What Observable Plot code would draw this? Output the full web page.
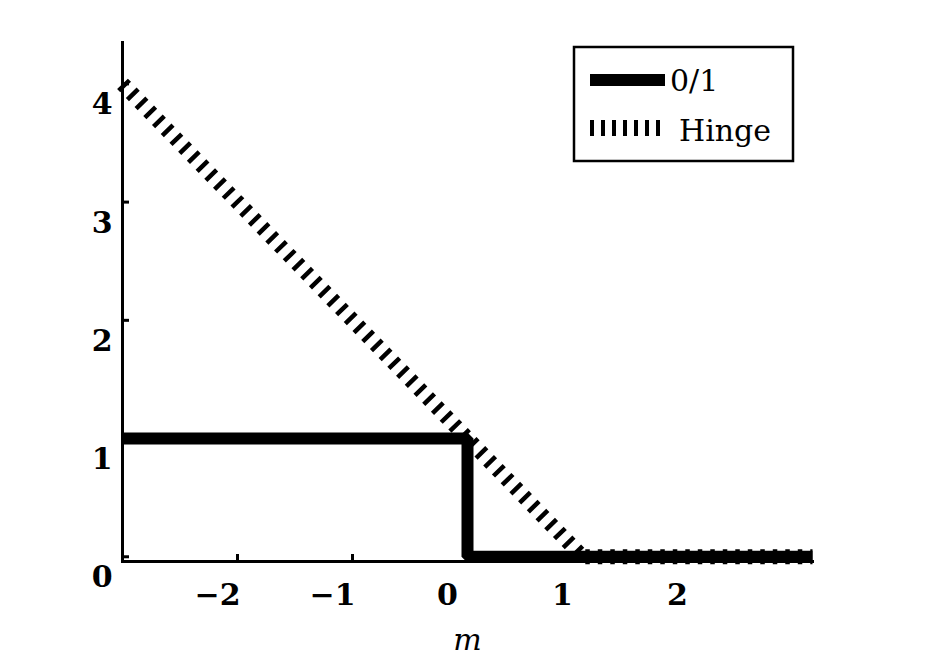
<!DOCTYPE html>
<html><head><meta charset="utf-8">
<script src="https://cdn.jsdelivr.net/npm/d3@7"></script>
<script src="https://cdn.jsdelivr.net/npm/@observablehq/plot@0.6"></script>
<style>
body{margin:0;background:#fff;}
#chart{position:relative;width:928px;height:672px;}
#chart svg g[aria-label="x-axis label"] text{font-style:italic;font-weight:normal;}
</style></head><body><div id="chart"></div>
<script>
// data
const marginM = [-3, 0, 0, 3];
const zeroOneLoss = [1, 1, 0, 0];
const hingeM = [-3, 1, 3];
const hingeLoss = [4, 0, 0];
const xTicks = [-2, -1, 0, 1, 2];
const yTicks = [0, 1, 2, 3, 4];
const seriesNames = ["0/1", "Hinge"];
const xLabel = "m";

const zeroOne = marginM.map((m, i) => ({m, loss: zeroOneLoss[i]}));
const hinge = hingeM.map((m, i) => ({m, loss: hingeLoss[i]}));
const fmt = d => (d < 0 ? "\u2212" : "") + Math.abs(d);

const font = "'DejaVu Serif', serif";
const plot = Plot.plot({
  width: 928, height: 672,
  marginLeft: 122, marginRight: 116, marginTop: 42, marginBottom: 111,
  style: {fontFamily: font, fontSize: "30px", color: "#000", background: "#fff", overflow: "visible"},
  x: {domain: [-3, 3]},
  y: {domain: [-0.04, 4.35]},
  marks: [
    Plot.frame({anchor: "bottom", strokeWidth: 3}),
    Plot.frame({anchor: "left", strokeWidth: 3}),
    Plot.axisX({ticks: xTicks, tickSize: -7, strokeWidth: 3, tickFormat: () => "", label: null}),
    Plot.axisY({ticks: yTicks, tickSize: -7, strokeWidth: 3, tickFormat: () => "", label: null}),
    Plot.axisX({ticks: xTicks, tickSize: 0, tickPadding: 22, dx: -20, fontWeight: "bold", tickFormat: fmt,
      label: xLabel, labelAnchor: "center", labelOffset: 88, labelArrow: "none"}),
    Plot.axisY({ticks: yTicks, tickSize: 0, tickPadding: 10, dy: 21, fontWeight: "bold", tickFormat: fmt, label: null}),
    Plot.line(zeroOne, {x: "m", y: "loss", stroke: "#000", strokeWidth: 12, strokeLinejoin: "miter", strokeLinecap: "butt"}),
    Plot.line(hinge, {x: "m", y: "loss", stroke: "#000", strokeWidth: 15, strokeDasharray: "4.5,8", strokeLinecap: "butt"})
  ]
});
document.getElementById("chart").appendChild(plot);

// legend inside plot area
const svg = d3.select(plot);
const lg = svg.append("g").attr("font-family", font).attr("font-size", 30).attr("text-anchor", "start");
lg.append("rect").attr("x", 574).attr("y", 47).attr("width", 219).attr("height", 114)
  .attr("fill", "#fff").attr("stroke", "#000").attr("stroke-width", 2.5);
lg.append("line").attr("x1", 590).attr("x2", 665).attr("y1", 80).attr("y2", 80)
  .attr("stroke", "#000").attr("stroke-width", 12);
lg.append("text").attr("x", 670).attr("y", 91).attr("text-anchor", "start").text(seriesNames[0]);
lg.append("line").attr("x1", 590).attr("x2", 664).attr("y1", 128).attr("y2", 128)
  .attr("stroke", "#000").attr("stroke-width", 16).attr("stroke-dasharray", "4,7");
lg.append("text").attr("x", 679).attr("y", 141).attr("text-anchor", "start").text(seriesNames[1]);
</script></body></html>
